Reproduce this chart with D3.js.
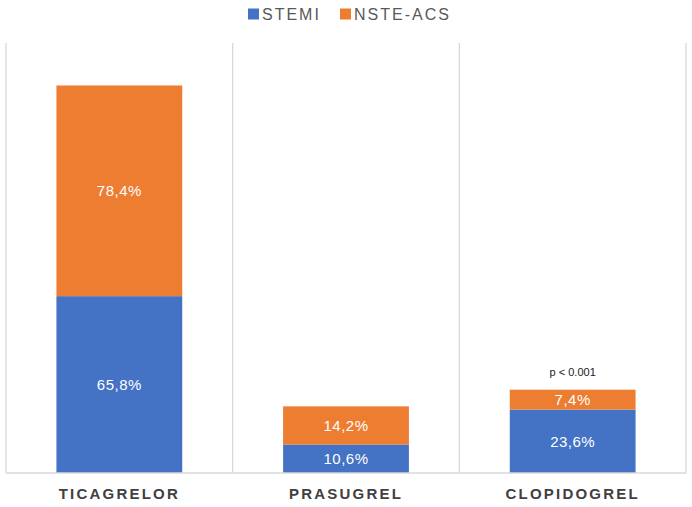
<!DOCTYPE html>
<html>
<head>
<meta charset="utf-8">
<script src="https://cdn.jsdelivr.net/npm/d3@7"></script>
<style>
  body { margin: 0; background: #fff; }
  text { font-family: "Liberation Sans", Arial, sans-serif; }
</style>
</head>
<body>
<script>
// chart data
var categories = ['TICAGRELOR', 'PRASUGREL', 'CLOPIDOGREL'];
var seriesNames = ['STEMI', 'NSTE-ACS'];
var stemi = [65.8, 10.6, 23.6];
var nsteAcs = [78.4, 14.2, 7.4];
var colors = ['#4472C4', '#ED7D31'];
var note = 'p < 0.001';

var width = 692, height = 507;
var margin = {top: 43, right: 6, bottom: 34, left: 6};

var svg = d3.select('body').append('svg')
    .attr('width', width)
    .attr('height', height);

var x = d3.scaleBand()
    .domain(categories)
    .range([margin.left, width - margin.right])
    .paddingInner(0.445)
    .paddingOuter(0.2225);

var y = d3.scaleLinear()
    .domain([0, 160])
    .range([height - margin.bottom, margin.top]);

// vertical separators between categories
var step = x.step();
var sepX = d3.range(categories.length + 1).map(function(i) { return margin.left + i * step; });
svg.selectAll('.sep')
    .data(sepX)
    .enter().append('line')
    .attr('x1', function(d) { return d; })
    .attr('x2', function(d) { return d; })
    .attr('y1', margin.top)
    .attr('y2', y(0))
    .attr('stroke', '#d9d9d9')
    .attr('stroke-width', 1.3);

// stacked data
var rows = categories.map(function(c, i) {
    return {cat: c, 'STEMI': stemi[i], 'NSTE-ACS': nsteAcs[i]};
});
var stack = d3.stack().keys(seriesNames)(rows);

var groups = svg.selectAll('.series')
    .data(stack)
    .enter().append('g')
    .attr('fill', function(d, i) { return colors[i]; });

groups.selectAll('rect')
    .data(function(d) { return d; })
    .enter().append('rect')
    .attr('x', function(d) { return x(d.data.cat); })
    .attr('width', x.bandwidth())
    .attr('y', function(d) { return y(d[1]); })
    .attr('height', function(d) { return y(d[0]) - y(d[1]); });

groups.selectAll('.lbl')
    .data(function(d) { return d.map(function(p) { return {p: p, key: d.key}; }); })
    .enter().append('text')
    .attr('x', function(d) { return x(d.p.data.cat) + x.bandwidth() / 2; })
    .attr('y', function(d) { return (y(d.p[0]) + y(d.p[1])) / 2; })
    .attr('dy', '0.35em')
    .attr('text-anchor', 'middle')
    .attr('fill', '#fff')
    .attr('font-size', 15)
    .attr('letter-spacing', '0.5px')
    .text(function(d) { return d.p.data[d.key].toFixed(1).replace('.', ',') + '%'; });

// baseline
svg.append('line')
    .attr('x1', margin.left)
    .attr('x2', width - margin.right)
    .attr('y1', y(0))
    .attr('y2', y(0))
    .attr('stroke', '#d9d9d9')
    .attr('stroke-width', 1.3);

// category axis
var xAxis = svg.append('g')
    .attr('transform', 'translate(0,' + y(0) + ')')
    .call(d3.axisBottom(x).tickSize(0).tickPadding(15));
xAxis.select('.domain').remove();
xAxis.selectAll('text')
    .attr('font-size', 15)
    .attr('font-weight', 'bold')
    .attr('letter-spacing', '2.2px')
    .attr('fill', '#404040')
    .style('font-family', '"Liberation Sans", Arial, sans-serif');

// p-value note above the last bar
var last = categories.length - 1;
svg.append('text')
    .attr('x', x(categories[last]) + x.bandwidth() / 2)
    .attr('y', y(stemi[last] + nsteAcs[last]) - 14)
    .attr('text-anchor', 'middle')
    .attr('font-size', 11)
    .attr('fill', '#222')
    .text(note);

// legend
var legend = svg.append('g').attr('transform', 'translate(248,14)');
var lx = [0, 92];
seriesNames.forEach(function(name, i) {
    var g = legend.append('g').attr('transform', 'translate(' + lx[i] + ',0)');
    g.append('rect')
        .attr('x', 0).attr('y', -5.5)
        .attr('width', 11).attr('height', 11)
        .attr('fill', colors[i]);
    g.append('text')
        .attr('x', 14)
        .attr('dy', '0.36em')
        .attr('font-size', 16)
        .attr('letter-spacing', '2px')
        .attr('fill', '#595959')
        .text(name);
});
</script>
</body>
</html>
